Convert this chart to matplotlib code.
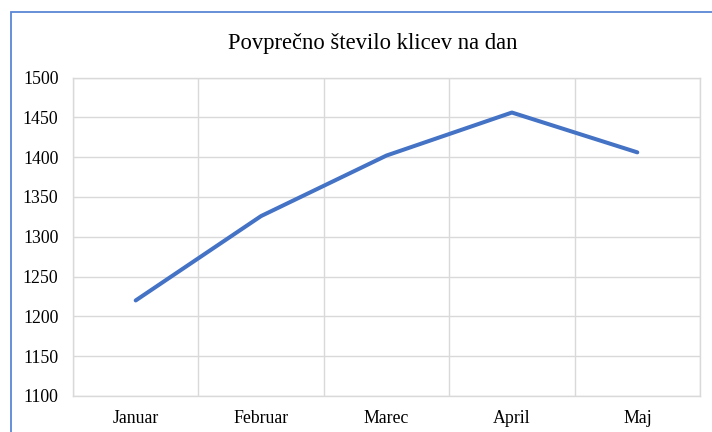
import matplotlib.pyplot as plt
from matplotlib.patches import Rectangle

# data
months = ['Januar', 'Februar', 'Marec', 'April', 'Maj']
klici = [1220, 1326, 1402, 1456, 1406]
yticks = [1100, 1150, 1200, 1250, 1300, 1350, 1400, 1450, 1500]

plt.rcParams['font.family'] = ['Liberation Serif', 'DejaVu Serif']

W, H = 712, 432
fig = plt.figure(figsize=(W / 100, H / 100), dpi=100)
ax = fig.add_axes([73 / W, 1 - 396 / H, (700 - 73) / W, (396 - 77.5) / H])

x = list(range(len(months)))
ax.plot(x, klici, color='#4472C4', linewidth=2.9, solid_capstyle='round')

ax.set_xlim(-0.5, len(months) - 0.5)
ax.set_ylim(1100, 1500)
ax.set_yticks(yticks)
ax.set_xticks(x)
ax.set_xticklabels(months)
ax.set_xticks([i - 0.5 for i in range(len(months) + 1)], minor=True)
ax.grid(True, axis='y', which='major', color='#d9d9d9', linewidth=1)
ax.grid(True, axis='x', which='minor', color='#d9d9d9', linewidth=1)
ax.set_axisbelow(True)
ax.tick_params(axis='both', which='both', length=0, labelsize=12.8, colors='black')
ax.tick_params(axis='y', pad=10.5)
ax.tick_params(axis='x', pad=10)
for s in ax.spines.values():
    s.set_color('#d9d9d9')
    s.set_linewidth(1)

fig.text(373 / W, 1 - 43 / H, 'Povprečno število klicev na dan', ha='center', va='center', fontsize=16.3)

# outer chart border (only left and top visible)
fig.patches.append(Rectangle((11 / W, -0.1), 1.2, 1 - 12 / H + 0.1, transform=fig.transFigure,
                             fill=False, edgecolor='#5b87d6', linewidth=1.3, clip_on=False))

fig.savefig('out.png', dpi=100)
